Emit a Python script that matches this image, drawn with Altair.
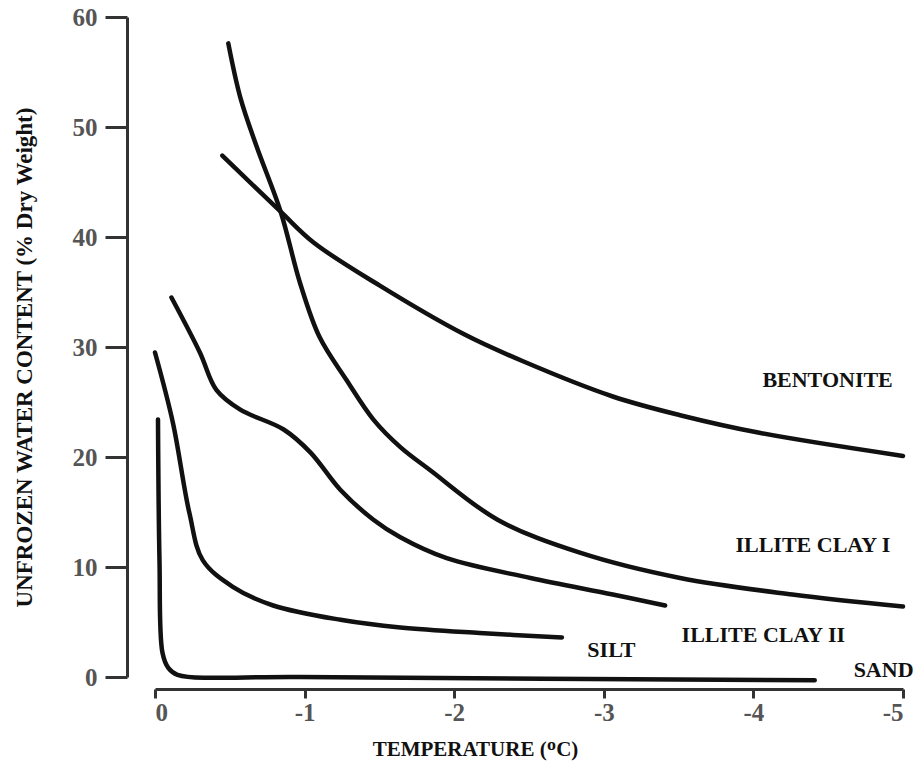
import altair as alt
import pandas as pd

# Curve readings: temperature (deg C) and unfrozen water content (% dry weight)
bentonite_t = [-0.45, -0.84, -1.06, -1.50, -2.06, -2.46, -3.06, -3.51, -4.04, -5.0]
bentonite_w = [47.4, 42.3, 39.5, 35.6, 31.2, 28.7, 25.5, 23.8, 22.2, 20.1]

illite1_t = [-0.49, -0.57, -0.68, -0.84, -0.97, -1.10, -1.28, -1.46, -1.64, -1.84, -2.29, -2.84, -3.51, -4.26, -5.0]
illite1_w = [57.6, 52.7, 48.2, 42.3, 35.8, 30.9, 27.0, 23.4, 20.9, 18.8, 14.3, 11.3, 9.0, 7.5, 6.4]

illite2_t = [-0.11, -0.30, -0.41, -0.57, -0.86, -1.04, -1.24, -1.46, -1.64, -1.95, -2.51, -3.06, -3.41]
illite2_w = [34.5, 29.5, 26.1, 24.3, 22.5, 20.4, 17.0, 14.3, 12.7, 10.8, 9.0, 7.5, 6.5]

silt_t = [0.0, -0.12, -0.23, -0.32, -0.52, -0.79, -1.24, -1.64, -2.17, -2.72]
silt_w = [29.5, 23.1, 14.9, 10.6, 8.2, 6.5, 5.2, 4.5, 4.0, 3.6]

sand_t = [-0.02, -0.03, -0.05, -0.09, -0.15, -0.97, -4.41]
sand_w = [23.4, 10.6, 2.2, 0.8, 0.2, 0.0, -0.3]

label_names = ["BENTONITE", "ILLITE CLAY I", "ILLITE CLAY II", "SILT", "SAND"]
label_t = [-4.06, -3.88, -3.52, -2.89, -4.67]
label_w = [27.0, 12.0, 3.8, 2.45, 0.64]

x_ticks = [0, -1, -2, -3, -4, -5]
y_ticks = [0, 10, 20, 30, 40, 50, 60]

rows = []
for name, ts, ws in [
    ("Bentonite", bentonite_t, bentonite_w),
    ("Illite Clay I", illite1_t, illite1_w),
    ("Illite Clay II", illite2_t, illite2_w),
    ("Silt", silt_t, silt_w),
    ("Sand", sand_t, sand_w),
]:
    for i, (t, w) in enumerate(zip(ts, ws)):
        rows.append({"soil": name, "temp": t, "water": w, "idx": i})
df = pd.DataFrame(rows)
labels_df = pd.DataFrame({"label": label_names, "temp": label_t, "water": label_w})

serif = "Liberation Serif"

x_scale = alt.Scale(domain=[0, -5], nice=False, zero=False)
y_scale = alt.Scale(domain=[0, 60], nice=False, zero=False)

x_axis = alt.Axis(
    title="TEMPERATURE (ᴼC)",
    values=x_ticks,
    labelExpr="datum.value == 0 ? '0' : '-' + abs(datum.value)",
    offset=12,
    grid=False,
    domainColor="#333333",
    domainWidth=3,
    tickColor="#333333",
    tickWidth=3,
    tickSize=9,
    labelFont=serif,
    labelFontSize=25,
    labelFontWeight="bold",
    labelColor="#555555",
    labelPadding=2,
    titleFont=serif,
    titleFontSize=21,
    titleFontWeight="bold",
    titleColor="#111111",
    titleX=320,
    titleY=60,
    titleAlign="center",
    titleBaseline="middle",
)

y_axis = alt.Axis(
    title="UNFROZEN WATER CONTENT (% Dry Weight)",
    values=y_ticks,
    offset=28,
    grid=False,
    domainColor="#333333",
    domainWidth=3,
    tickColor="#333333",
    tickWidth=3,
    tickSize=22,
    labelFont=serif,
    labelFontSize=25,
    labelFontWeight="bold",
    labelColor="#555555",
    labelPadding=8,
    titleFont=serif,
    titleFontSize=23,
    titleFontWeight="bold",
    titleColor="#111111",
    titleAngle=270,
    titleX=-103,
    titleY=340,
    titleAlign="center",
    titleBaseline="middle",
)

lines = alt.Chart(df).mark_line(
    color="#111111", strokeWidth=4.5, interpolate="catmull-rom", strokeCap="round", clip=False
).encode(
    x=alt.X("temp:Q", scale=x_scale, axis=x_axis),
    y=alt.Y("water:Q", scale=y_scale, axis=y_axis),
    detail="soil:N",
    order="idx:O",
)

texts = alt.Chart(labels_df).mark_text(
    font=serif, fontSize=22, fontWeight="bold", color="#111111", align="left", baseline="middle"
).encode(
    x=alt.X("temp:Q", scale=x_scale),
    y=alt.Y("water:Q", scale=y_scale),
    text="label:N",
)

chart = alt.layer(lines, texts).properties(
    width=748,
    height=660,
    autosize=alt.AutoSizeParams(type="none"),
    padding={"left": 155, "top": 17, "right": 15, "bottom": 87},
    background="white",
).configure_view(stroke=None)

chart.save("out.html", embed_options={"renderer": "svg", "actions": False})
